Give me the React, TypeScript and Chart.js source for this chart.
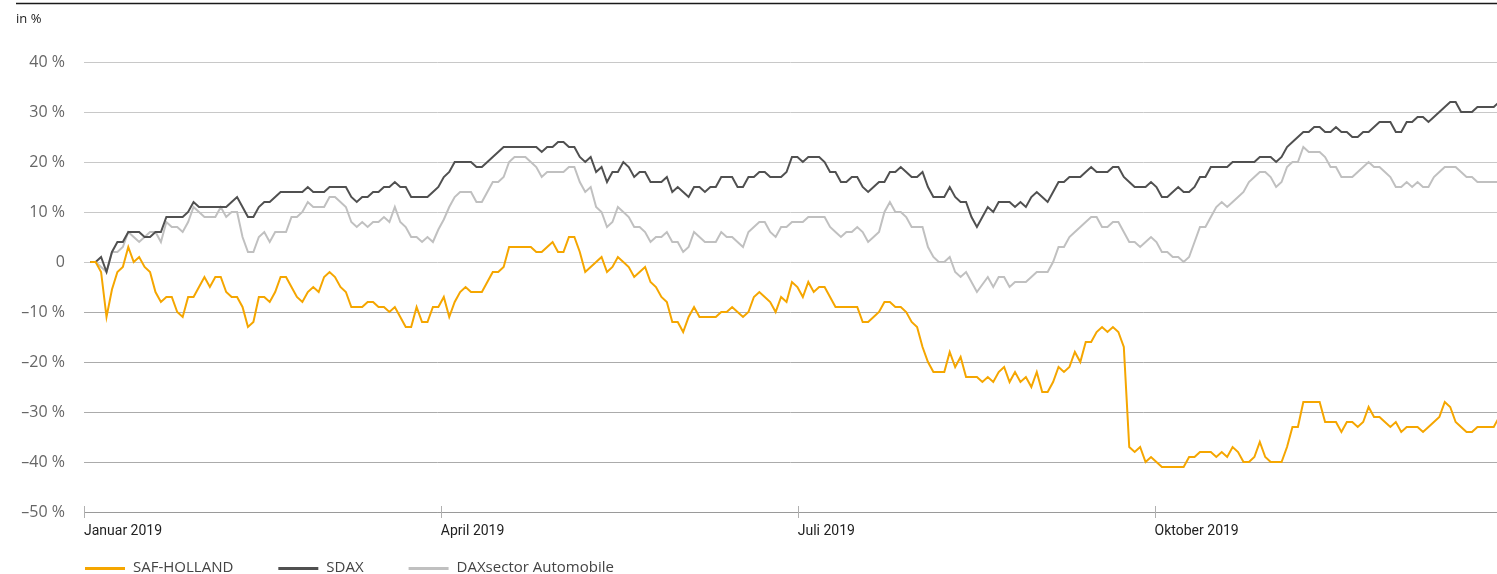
import React, { useEffect, useRef } from 'react';
import { Chart, registerables } from 'chart.js';

Chart.register(...registerables);

// ---------- data ----------
const SERIES_NAMES = ['SAF-HOLLAND', 'SDAX', 'DAXsector Automobile'];

// performance in % per trading day (index 0 = first trading day of 2019)
const SAF_HOLLAND = [
  0, 0, -2, -11, -5.5, -2, -1, 3, 0, 1, -1, -2, -6, -8, -7, -7, -10, -11, -7, -7, -5, -3, -5, -3, -3, -6, -7, -7, -9, -13, -12, -7,
  -7, -8, -6, -3, -3, -5, -7, -8, -6, -5, -6, -3, -2, -3, -5, -6, -9, -9, -9, -8, -8, -9, -9, -10, -9, -11, -13, -13, -9, -12, -12, -9, -9,
  -7, -11, -8, -6, -5, -6, -6, -6, -4, -2, -2, -1, 3, 3, 3, 3, 3, 2, 2, 3, 4, 2, 2, 5, 5, 2, -2, -1, 0, 1, -2, -1, 1,
  0, -1, -3, -2, -1, -4, -5, -7, -8, -12, -12, -14, -11, -9, -11, -11, -11, -11, -10, -10, -9, -10, -11, -10, -7, -6, -7, -8, -10, -7, -8, -4, -5,
  -7, -4, -6, -5, -5, -7, -9, -9, -9, -9, -9, -12, -12, -11, -10, -8, -8, -9, -9, -10, -12, -13, -17, -20, -22, -22, -22, -18, -21, -19, -23, -23, -23,
  -24, -23, -24, -22, -21, -24, -22, -24, -23, -25, -22, -26, -26, -24, -21, -22, -21, -18, -20, -16, -16, -14, -13, -14, -13, -14, -17, -37, -38, -37, -40, -39, -40,
  -41, -41, -41, -41, -41, -39, -39, -38, -38, -38, -39, -38, -39, -37, -38, -40, -40, -39, -36, -39, -40, -40, -40, -37, -33, -33, -28, -28, -28, -28, -32, -32, -32,
  -34, -32, -32, -33, -32, -29, -31, -31, -32, -33, -32, -34, -33, -33, -33, -34, -33, -32, -31, -28, -29, -32, -33, -34, -34, -33, -33, -33, -33, -31,
];

const SDAX = [
  0, 0, 1, -2, 2, 4, 4, 6, 6, 6, 5, 5, 6, 6, 9, 9, 9, 9, 10, 12, 11, 11, 11, 11, 11, 11, 12, 13, 11, 9, 9, 11,
  12, 12, 13, 14, 14, 14, 14, 14, 15, 14, 14, 14, 15, 15, 15, 15, 13, 12, 13, 13, 14, 14, 15, 15, 16, 15, 15, 13, 13, 13, 13, 14, 15,
  17, 18, 20, 20, 20, 20, 19, 19, 20, 21, 22, 23, 23, 23, 23, 23, 23, 23, 22, 23, 23, 24, 24, 23, 23, 21, 20, 21, 18, 19, 16, 18, 18,
  20, 19, 17, 18, 18, 16, 16, 16, 17, 14, 15, 14, 13, 15, 15, 14, 15, 15, 17, 17, 17, 15, 15, 17, 17, 18, 18, 17, 17, 17, 18, 21, 21,
  20, 21, 21, 21, 20, 18, 18, 16, 16, 17, 17, 15, 14, 15, 16, 16, 18, 18, 19, 18, 17, 17, 18, 15, 13, 13, 13, 15, 13, 12, 12, 9, 7,
  9, 11, 10, 12, 12, 12, 11, 12, 11, 13, 14, 13, 12, 14, 16, 16, 17, 17, 17, 18, 19, 18, 18, 18, 19, 19, 17, 16, 15, 15, 15, 16, 15,
  13, 13, 14, 15, 14, 14, 15, 17, 17, 19, 19, 19, 19, 20, 20, 20, 20, 20, 21, 21, 21, 20, 21, 23, 24, 25, 26, 26, 27, 27, 26, 26, 27,
  26, 26, 25, 25, 26, 26, 27, 28, 28, 28, 26, 26, 28, 28, 29, 29, 28, 29, 30, 31, 32, 32, 30, 30, 30, 31, 31, 31, 31, 32,
];

const DAXSECTOR_AUTOMOBILE = [
  0, 0, -1, -2, 2, 2, 3, 6, 5, 4, 5, 6, 6, 4, 8, 7, 7, 6, 8, 11, 10, 9, 9, 9, 11, 9, 10, 10, 5, 2, 2, 5,
  6, 4, 6, 6, 6, 9, 9, 10, 12, 11, 11, 11, 13, 13, 12, 11, 8, 7, 8, 7, 8, 8, 9, 8, 11, 8, 7, 5, 5, 4, 5, 4, 6.5,
  8.5, 11, 13, 14, 14, 14, 12, 12, 14, 16, 16, 17, 20, 21, 21, 21, 20, 19, 17, 18, 18, 18, 18, 19, 19, 16, 14, 15, 11, 10, 7, 8, 11,
  10, 9, 7, 7, 6, 4, 5, 5, 6, 4, 4, 2, 3, 6, 5, 4, 4, 4, 6, 5, 5, 4, 3, 6, 7, 8, 8, 6, 5, 7, 7, 8, 8,
  8, 9, 9, 9, 9, 7, 6, 5, 6, 6, 7, 6, 4, 5, 6, 10, 12, 10, 10, 9, 7, 7, 7, 3, 1, 0, 0, 1, -2, -3, -2, -4, -6,
  -4.5, -3, -5, -3, -3, -5, -4, -4, -4, -3, -2, -2, -2, 0, 3, 3, 5, 6, 7, 8, 9, 9, 7, 7, 8, 8, 6, 4, 4, 3, 4, 5, 4,
  2, 2, 1, 1, 0, 1, 4, 7, 7, 9, 11, 12, 11, 12, 13, 14, 16, 17, 18, 18, 17, 15, 16, 19, 20, 20, 23, 22, 22, 22, 21, 19, 19,
  17, 17, 17, 18, 19, 20, 19, 19, 18, 17, 15, 15, 16, 15, 16, 15, 15, 17, 18, 19, 19, 19, 18, 17, 17, 16, 16, 16, 16, 16,
];

// x axis: quarter ticks, expressed in trading-day index units
const X_TICK_LABELS = ['Januar 2019', 'April 2019', 'Juli 2019', 'Oktober 2019'];
const X_TICK_VALUES = [-1.14, 64.46, 130.06, 195.66];
const X_MIN = -1.14;
const X_MAX = 258.6;

const Y_MIN = -50;
const Y_MAX = 40;
const Y_STEP = 10;
const UNIT_LABEL = 'in %';

// ---------- styles ----------
const COLORS = ['#f5a600', '#505050', '#c0c0c0'];

const toPoints = (arr: number[]) => arr.map((y, i) => ({ x: i, y }));

const formatY = (v: number) => {
  if (v === 0) return '0';
  return (v < 0 ? '\u2013' + Math.abs(v) : String(v)) + ' %';
};

const decorPlugin = {
  id: 'decor',
  afterDraw(chart: any) {
    const { ctx, chartArea, scales } = chart;
    ctx.save();
    // top rule
    ctx.strokeStyle = '#1a1a1a';
    ctx.lineWidth = 1.5;
    ctx.beginPath();
    ctx.moveTo(16, 3.5);
    ctx.lineTo(chart.width, 3.5);
    ctx.stroke();

    // unit label
    ctx.fillStyle = '#222';
    ctx.font = '13px "Open Sans"';
    ctx.textAlign = 'left';
    ctx.textBaseline = 'middle';
    ctx.fillText(UNIT_LABEL, 16, 19);

    // x tick marks crossing the axis line
    ctx.strokeStyle = '#b0b0b0';
    ctx.lineWidth = 1;
    for (const t of scales.x.ticks) {
      const px = Math.round(scales.x.getPixelForValue(t.value)) + 0.5;
      ctx.beginPath();
      ctx.moveTo(px, chartArea.bottom - 6);
      ctx.lineTo(px, chartArea.bottom + 6);
      ctx.stroke();
    }

    // legend
    ctx.font = '15px "Open Sans"';
    ctx.textBaseline = 'middle';
    let x = chartArea.left + 1;
    const y = 568;
    chart.data.datasets.forEach((ds: any) => {
      ctx.strokeStyle = ds.borderColor;
      ctx.lineWidth = 3;
      ctx.beginPath();
      ctx.moveTo(x, y + 0.5);
      ctx.lineTo(x + 40, y + 0.5);
      ctx.stroke();
      ctx.fillStyle = '#444';
      ctx.fillText(ds.label, x + 48, y);
      x += 48 + ctx.measureText(ds.label).width + 45;
    });
    ctx.restore();
  },
};

export default function App() {
  const canvasRef = useRef<HTMLCanvasElement | null>(null);

  useEffect(() => {
    document.body.style.margin = '0';
    const canvas = canvasRef.current;
    if (!canvas) return;
    const seriesData = [SAF_HOLLAND, SDAX, DAXSECTOR_AUTOMOBILE];
    const chart = new Chart(canvas, {
      type: 'line',
      data: {
        datasets: seriesData.map((arr, i) => ({
          label: SERIES_NAMES[i],
          data: toPoints(arr),
          borderColor: COLORS[i],
          backgroundColor: COLORS[i],
          borderWidth: 2,
          pointRadius: 0,
          tension: 0,
          fill: false,
        })),
      },
      options: {
        responsive: false,
        animation: false,
        layout: { padding: { top: 62, left: 0, right: 0, bottom: 0 } },
        plugins: {
          legend: { display: false },
          tooltip: { enabled: false },
        },
        scales: {
          x: {
            type: 'linear',
            min: X_MIN,
            max: X_MAX,
            afterBuildTicks: (s: any) => {
              s.ticks = X_TICK_VALUES.map((v) => ({ value: v }));
            },
            afterFit: (s: any) => {
              s.height = 62;
            },
            grid: { display: false },
            border: { display: true, color: '#9a9a9a', width: 1 },
            ticks: {
              autoSkip: false,
              maxRotation: 0,
              minRotation: 0,
              align: 'start',
              padding: 3,
              color: '#222',
              font: { family: 'Roboto', size: 14 },
              callback: (_v: any, i: number) => X_TICK_LABELS[i],
            },
          },
          y: {
            min: Y_MIN,
            max: Y_MAX,
            afterFit: (s: any) => {
              s.width = 84;
            },
            border: { display: false },
            grid: {
              drawTicks: false,
              lineWidth: 1,
              color: (c: any) => {
                const v = c.tick ? c.tick.value : 0;
                if (v === Y_MIN) return '#9a9a9a';
                return v >= 0 ? '#c8c8c8' : '#ababab';
              },
            },
            ticks: {
              stepSize: Y_STEP,
              padding: 19,
              color: '#666',
              font: { family: '"Open Sans"', size: 16 },
              callback: (v: any) => formatY(Number(v)),
            },
          },
        },
      },
      plugins: [decorPlugin],
    } as any);
    return () => chart.destroy();
  }, []);

  return (
    <div style={{ width: 1497, height: 574, position: 'relative' }}>
      <canvas ref={canvasRef} width={1497} height={574} style={{ width: 1497, height: 574, display: 'block' }} />
    </div>
  );
}
